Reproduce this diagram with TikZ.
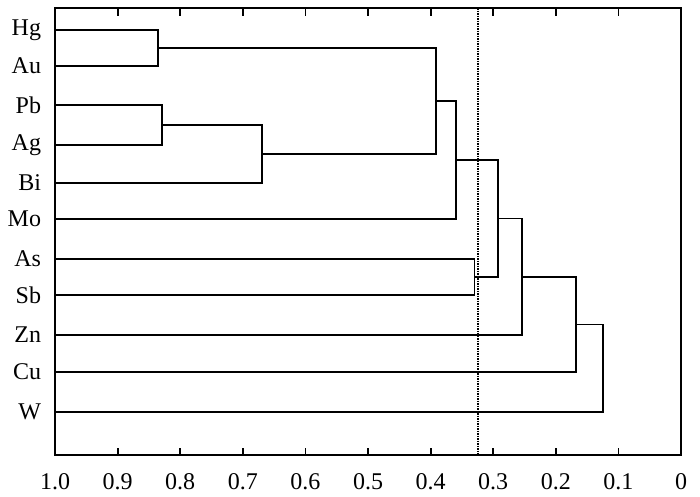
\documentclass[tikz,border=0pt]{standalone}
\usepackage{fontspec}
\setmainfont{Liberation Serif}
\begin{document}
\begin{tikzpicture}[x=1pt,y=-1pt]
		\useasboundingbox (0,0) rectangle (700,496);
		\begin{scope}[x=-626pt,y=-1pt,xshift=681pt,font=\fontsize{24}{24}\selectfont]
		\tikzset{tree/.style={line width=1.7},
			elem/.style={anchor=east,inner sep=0}}
		
		\draw[line width=2.2] (1,8) rectangle (0,455);
		
		\draw[line width=1.8] (0.9,8) --++(0,8) (0.9,455) --++(0,-7);
		\draw[line width=1.8] (0.8,8) --++(0,8) (0.8,455) --++(0,-7);
		\draw[line width=1.8] (0.7,8) --++(0,8) (0.7,455) --++(0,-7);
		\draw[line width=1.8] (0.6,8) --++(0,8) (0.6,455) --++(0,-7);
		\draw[line width=1.8] (0.5,8) --++(0,8) (0.5,455) --++(0,-7);
		\draw[line width=1.8] (0.4,8) --++(0,8) (0.4,455) --++(0,-7);
		\draw[line width=1.8] (0.3,8) --++(0,8) (0.3,455) --++(0,-7);
		\draw[line width=1.8] (0.2,8) --++(0,8) (0.2,455) --++(0,-7);
		\draw[line width=1.8] (0.1,8) --++(0,8) (0.1,455) --++(0,-7);
		
		\node (s10) at (1.0,482) {1.0};
		\node (s09) at (0.9,482) {0.9};
		\node (s08) at (0.8,482) {0.8};
		\node (s07) at (0.7,482) {0.7};
		\node (s06) at (0.6,482) {0.6};
		\node (s05) at (0.5,482) {0.5};
		\node (s04) at (0.4,482) {0.4};
		\node (s03) at (0.3,482) {0.3};
		\node (s02) at (0.2,482) {0.2};
		\node (s01) at (0.1,482) {0.1};
		\node (s00) at (0,482) {0};
		
		\node[elem] (tHg) at (1.022,30) {Hg};
		\node[elem] (tAu) at (1.022,66) {Au};
		\node[elem] (tPb) at (1.022,105) {Pb};
		\node[elem] (tAg) at (1.022,145) {Ag};
		\node[elem] (tBi) at (1.022,183) {Bi};
		\node[elem] (tMo) at (1.022,219) {Mo};
		\node[elem] (tAs) at (1.022,259) {As};
		\node[elem] (tSb) at (1.022,295) {Sb};
		\node[elem] (tZn) at (1.022,335) {Zn};
		\node[elem] (tCu) at (1.022,372) {Cu};
		\node[elem] (tW) at (1.022,412) {W};
		
		\coordinate (Hg) at (1,30);
		\coordinate (Au) at (1,66);
		\coordinate (Pb) at (1,105);
		\coordinate (Ag) at (1,145);
		\coordinate (Bi) at (1,183);
		\coordinate (Mo) at (1,219);
		\coordinate (As) at (1,259);
		\coordinate (Sb) at (1,295);
		\coordinate (Zn) at (1,335);
		\coordinate (Cu) at (1,372);
		\coordinate (W) at (1,412);
		
		% merge points: (distance, mid height)
		\coordinate (m1) at (0.835,48);
		\coordinate (m2) at (0.829,125);
		\coordinate (m3) at (0.669,154);
		\coordinate (m4) at (0.391,101);
		\coordinate (m5) at (0.359,160);
		\coordinate (m6) at (0.330,277);
		\coordinate (m7) at (0.292,218.5);
		\coordinate (m8) at (0.254,276.75);
		\coordinate (m9) at (0.168,324.4);
		\coordinate (m10) at (0.125,368);
		
		\draw[tree] (Hg) -| (m1) |- (Au);
		\draw[tree] (Pb) -| (m2) |- (Ag);
		\draw[tree] (m2) -| (m3) |- (Bi);
		\draw[tree] (m1) -| (m4) |- (m3);
		\draw[tree] (m4) -| (m5) |- (Mo);
		\draw[tree] (As) -| (m6) |- (Sb);
		\draw[tree] (m5) -| (m7) |- (m6);
		\draw[tree] (m7) -| (m8) |- (Zn);
		\draw[tree] (m8) -| (m9) |- (Cu);
		\draw[tree] (m9) -| (m10) |- (W);
		
		\coordinate (cutT) at (0.324,8);
		\coordinate (cutB) at (0.324,455);
		\draw[line width=1.7,dash pattern=on 1.5pt off 1pt] (cutT) -- (cutB);
		\end{scope}
\end{tikzpicture}
\end{document}
